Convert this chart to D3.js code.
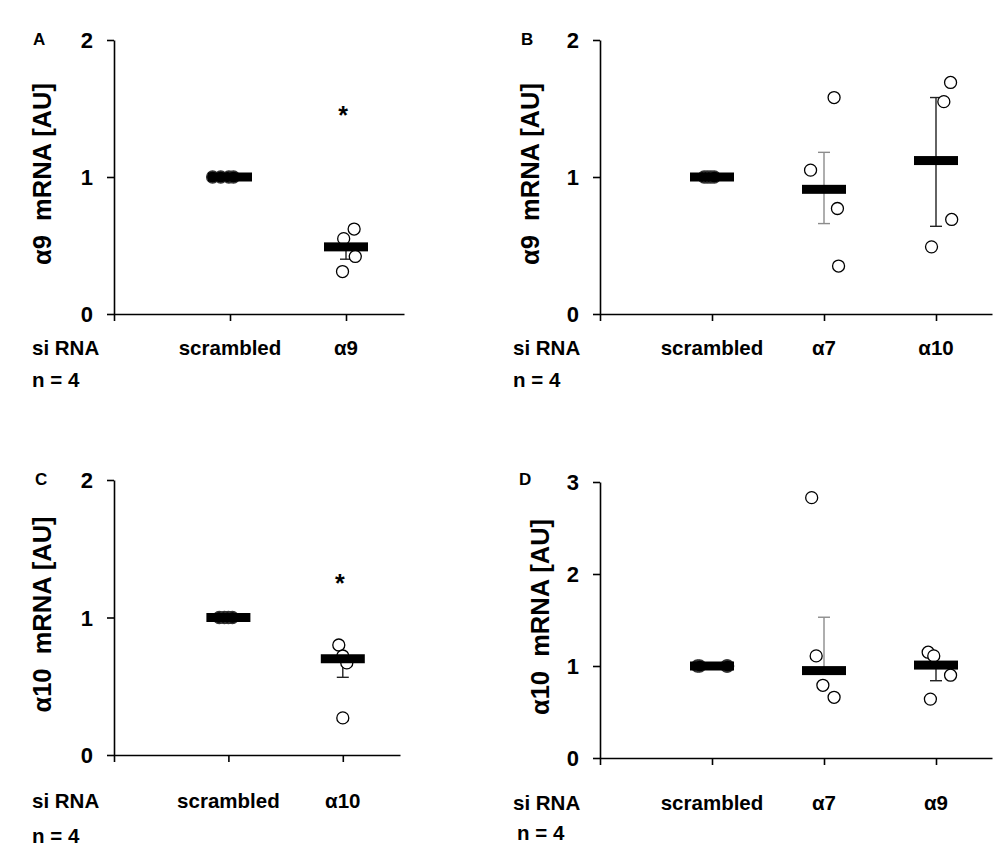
<!DOCTYPE html>
<html>
<head>
<meta charset="utf-8">
<script src="https://cdn.jsdelivr.net/npm/d3@7"></script>
<style>
  body { margin: 0; background: #fff; }
  text { font-family: "Liberation Sans", Arial, sans-serif; font-weight: bold; fill: #000; }
</style>
</head>
<body>
<script>
// ---- data ----
const letters = ["A", "B", "C", "D"];
const yTitles = ["α9  mRNA [AU]", "α9  mRNA [AU]", "α10  mRNA [AU]", "α10  mRNA [AU]"];
const yMaxes = [2, 2, 2, 3];

const catsA = ["scrambled", "α9"];
const catsB = ["scrambled", "α7", "α10"];
const catsC = ["scrambled", "α10"];
const catsD = ["scrambled", "α7", "α9"];

// individual experiments (n = 4)
const valsA = [[1, 1, 1, 1], [0.62, 0.55, 0.42, 0.31]];
const valsB = [[1, 1, 1, 1], [1.05, 1.58, 0.77, 0.35], [1.69, 1.55, 0.69, 0.49]];
const valsC = [[1, 1, 1, 1], [0.80, 0.67, 0.27, 0.72]];
const valsD = [[1, 1, 1, 1], [2.83, 1.11, 0.79, 0.66], [1.15, 1.11, 0.90, 0.64]];

// horizontal scatter of the dots, in category units
const jitA = [[-0.15, -0.08, -0.01, 0.03], [0.07, -0.02, 0.08, -0.03]];
const jitB = [[-0.07, -0.04, -0.01, 0.02], [-0.12, 0.09, 0.12, 0.13], [0.13, 0.07, 0.14, -0.04]];
const jitC = [[-0.08, -0.035, 0, 0.035], [-0.035, 0.035, 0, 0]];
const jitD = [[-0.13, -0.11, 0.13, 0.14], [-0.11, -0.07, -0.01, 0.09], [-0.07, -0.02, 0.13, -0.05]];

// mean bars and error bar ends (null = not drawn)
const meansA = [1.0, 0.49];
const meansB = [1.0, 0.91, 1.12];
const meansC = [1.0, 0.70];
const meansD = [1.0, 0.95, 1.01];

const errLoA = [null, 0.40];
const errHiA = [null, null];
const errLoB = [null, 0.66, 0.64];
const errHiB = [null, 1.18, 1.58];
const errLoC = [null, 0.565];
const errHiC = [null, null];
const errLoD = [null, null, 0.84];
const errHiD = [null, 1.53, null];

// significance stars (value where the star sits)
const starsA = [null, 1.49];
const starsB = [null, null, null];
const starsC = [null, 1.29];
const starsD = [null, null, null];

const panels = [
  {cats: catsA, vals: valsA, jit: jitA, means: meansA, lo: errLoA, hi: errHiA, stars: starsA},
  {cats: catsB, vals: valsB, jit: jitB, means: meansB, lo: errLoB, hi: errHiB, stars: starsB},
  {cats: catsC, vals: valsC, jit: jitC, means: meansC, lo: errLoC, hi: errHiC, stars: starsC},
  {cats: catsD, vals: valsD, jit: jitD, means: meansD, lo: errLoD, hi: errHiD, stars: starsD}
];

// ---- layout ----
const layout = [
  {x0: 114, x1: 404, yTop: 40,  yBot: 314, lx: 33,  ly: 45,  tx: 51,  sx: 32,  nx: 32,  catY: 355, nY: 387, grey: []},
  {x0: 600, x1: 992, yTop: 40,  yBot: 314, lx: 521, ly: 45,  tx: 539, sx: 513, nx: 513, catY: 355, nY: 387, grey: [1]},
  {x0: 114, x1: 400, yTop: 480, yBot: 755, lx: 35,  ly: 485, tx: 51,  sx: 32,  nx: 32,  catY: 808, nY: 843, grey: []},
  {x0: 600, x1: 992, yTop: 482, yBot: 758, lx: 519, ly: 485, tx: 549, sx: 513, nx: 517, catY: 810, nY: 840, grey: [1]}
];

const svg = d3.select("body")
    .append("svg")
    .attr("width", 1000)
    .attr("height", 850);

panels.forEach(function (p, k) {
  const L = layout[k];
  const g = svg.append("g");
  const n = p.cats.length;

  const x = d3.scaleLinear()
      .domain([0, n + 0.5])
      .range([L.x0, L.x1]);
  const y = d3.scaleLinear()
      .domain([0, yMaxes[k]])
      .range([L.yBot, L.yTop]);

  // axes
  const yAx = g.append("g")
      .attr("transform", `translate(${L.x0},0)`)
      .call(d3.axisLeft(y)
          .tickValues(d3.range(0, yMaxes[k] + 1))
          .tickSize(7).tickSizeOuter(0).tickPadding(14)
          .tickFormat(d3.format("d")));
  yAx.selectAll("text")
      .attr("font-size", 22)
      .attr("font-family", "Liberation Sans, Arial, sans-serif")
      .attr("font-weight", "bold")
      .attr("dy", "0.36em");

  g.append("g")
      .attr("transform", `translate(0,${L.yBot})`)
      .call(d3.axisBottom(x)
          .tickValues(d3.range(0, n + 1))
          .tickSize(7).tickSizeOuter(0)
          .tickFormat(""));

  g.selectAll(".domain, .tick line")
      .attr("stroke", "#000")
      .attr("stroke-width", 1.6);

  // category labels
  g.selectAll(".cat")
      .data(p.cats)
      .enter()
      .append("text")
      .attr("class", "cat")
      .attr("x", (d, i) => x(i + 1))
      .attr("y", L.catY)
      .attr("text-anchor", "middle")
      .attr("font-size", 20.5)
      .text(d => d);

  g.append("text").attr("x", L.sx).attr("y", L.catY).attr("font-size", 20.5).text("si RNA");
  g.append("text").attr("x", L.nx).attr("y", L.nY).attr("font-size", 20.5).text("n = 4");

  // panel letter
  g.append("text").attr("x", L.lx).attr("y", L.ly).attr("font-size", 17).text(letters[k]);

  // y title
  g.append("text")
      .attr("transform", `translate(${L.tx},${(L.yTop + L.yBot) / 2 - 3}) rotate(-90)`)
      .attr("text-anchor", "middle")
      .attr("font-size", 25.5)
      .style("white-space", "pre")
      .text(yTitles[k]);

  // error bars
  p.means.forEach(function (m, i) {
    const cx = x(i + 1);
    const col = L.grey.includes(i) ? "#8c8c8c" : "#222";
    [p.lo[i], p.hi[i]].forEach(function (e) {
      if (e === null) return;
      g.append("line")
          .attr("x1", cx).attr("x2", cx)
          .attr("y1", y(m)).attr("y2", y(e))
          .attr("stroke", col).attr("stroke-width", 1.4);
      g.append("line")
          .attr("x1", cx - 6).attr("x2", cx + 6)
          .attr("y1", y(e)).attr("y2", y(e))
          .attr("stroke", col).attr("stroke-width", 1.4);
    });
  });

  // individual points
  p.vals.forEach(function (vs, i) {
    g.selectAll(null)
        .data(vs)
        .enter()
        .append("circle")
        .attr("cx", (d, j) => x(i + 1 + p.jit[i][j]))
        .attr("cy", d => y(d))
        .attr("r", 6)
        .attr("fill", i === 0 ? "#000" : "#fff")
        .attr("stroke", i === 0 ? "#333" : "#000")
        .attr("stroke-width", 1.3);
  });

  // mean bars
  g.selectAll(".mean")
      .data(p.means)
      .enter()
      .append("rect")
      .attr("class", "mean")
      .attr("x", (d, i) => x(i + 1) - 22)
      .attr("y", d => y(d) - 4.5)
      .attr("width", 44)
      .attr("height", 9)
      .attr("fill", "#000");

  // stars
  p.stars.forEach(function (s, i) {
    if (s === null) return;
    g.append("text")
        .attr("x", x(i + 1) - 3)
        .attr("y", y(s))
        .attr("dy", "0.58em")
        .attr("text-anchor", "middle")
        .attr("font-size", 25)
        .text("*");
  });
});
</script>
</body>
</html>
